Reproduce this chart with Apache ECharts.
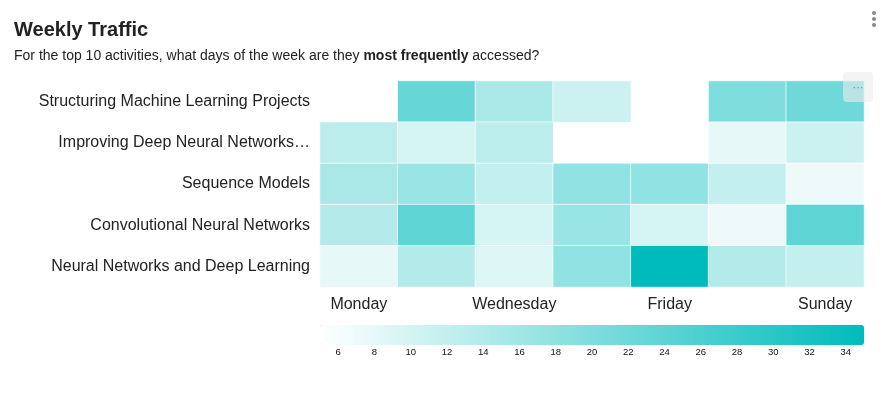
<!DOCTYPE html>
<html>
<head>
<meta charset="utf-8">
<script src="https://cdn.jsdelivr.net/npm/echarts@6/dist/echarts.min.js"></script>
<style>
html,body{margin:0;padding:0;background:#fff;}
#chart{width:893px;height:396px;}
</style>
</head>
<body>
<div id="chart"></div>
<script>
var days = ['Monday','Tuesday','Wednesday','Thursday','Friday','Saturday','Sunday'];
var activities = [
  'Structuring Machine Learning Projects',
  'Improving Deep Neural Networks…',
  'Sequence Models',
  'Convolutional Neural Networks',
  'Neural Networks and Deep Learning'
];
// values per activity, Monday..Sunday ('-' = no data)
var structuringML = ['-', 23, 15, 11, '-', 20, 22];
var improvingDNN  = [13, 10, 13, '-', '-', 8, 11];
var sequenceModels = [15, 17, 12, 18, 18, 12, 7];
var convNets      = [14, 24, 10, 17, 10, 7, 24];
var nnDeepLearning = [8, 14, 9, 18, 35, 14, 12];
var colorMin = 5;
var colorMax = 35;
var colorTicks = [6, 8, 10, 12, 14, 16, 18, 20, 22, 24, 26, 28, 30, 32, 34];

var rows = [structuringML, improvingDNN, sequenceModels, convNets, nnDeepLearning];
var heatData = [];
rows.forEach(function (row, yi) {
  row.forEach(function (v, xi) {
    if (v !== '-') heatData.push([xi, yi, v]);
  });
});

var FONT = "'Liberation Sans', Arial, sans-serif";
var chart = echarts.init(document.getElementById('chart'), null, {renderer: 'canvas'});
chart.setOption({
  animation: false,
  backgroundColor: '#fff',
  textStyle: {fontFamily: FONT},
  title: [
    {
      text: 'Weekly Traffic',
      left: 14, top: 20, padding: 0,
      textStyle: {fontSize: 20, fontWeight: 'bold', color: '#222', fontFamily: FONT}
    },
    {
      text: '{n|For the top 10 activities, what days of the week are they }{b|most frequently}{n| accessed?}',
      left: 14, top: 49, padding: 0,
      textStyle: {
        fontSize: 14, color: '#222', fontWeight: 'normal', fontFamily: FONT,
        rich: {
          n: {fontSize: 14, color: '#222', fontWeight: 'normal', fontFamily: FONT},
          b: {fontSize: 14, color: '#222', fontWeight: 'bold', fontFamily: FONT}
        }
      }
    }
  ],
  grid: [
    {left: 320, right: 29, top: 81, height: 206},
    {left: 302, right: 11, top: 344, height: 1}
  ],
  xAxis: [
    {
      type: 'category', data: days, gridIndex: 0,
      axisLine: {show: false}, axisTick: {show: false}, splitLine: {show: false},
      axisLabel: {interval: 1, fontSize: 16, color: '#222', margin: 10, fontFamily: FONT}
    },
    {
      type: 'value', gridIndex: 1, min: 4, max: 36, interval: 2,
      axisLine: {show: false}, axisTick: {show: false}, splitLine: {show: false},
      axisLabel: {
        showMinLabel: false, showMaxLabel: false,
        fontSize: 9.5, color: '#111', margin: 2, fontFamily: FONT,
        formatter: function (v) { return colorTicks.indexOf(v) >= 0 ? String(v) : ''; }
      }
    }
  ],
  yAxis: [
    {
      type: 'category', data: activities, inverse: true, gridIndex: 0,
      axisLine: {show: false}, axisTick: {show: false}, splitLine: {show: false},
      axisLabel: {fontSize: 16, color: '#222', margin: 10, fontFamily: FONT}
    },
    {type: 'value', gridIndex: 1, show: false}
  ],
  visualMap: {
    type: 'continuous',
    min: colorMin, max: colorMax,
    orient: 'horizontal',
    left: 320, top: 325,
    padding: 0,
    itemWidth: 20, itemHeight: 544,
    calculable: false,
    seriesIndex: 0,
    inRange: {color: ['#FFFFFF', '#00BBBB']}
  },
  series: [{
    type: 'heatmap',
    xAxisIndex: 0, yAxisIndex: 0,
    data: heatData,
    itemStyle: {borderColor: 'rgba(255,255,255,0.7)', borderWidth: 1},
    emphasis: {disabled: true}
  }],
  graphic: [
    {type: 'circle', shape: {cx: 874, cy: 13, r: 2}, style: {fill: '#888'}},
    {type: 'circle', shape: {cx: 874, cy: 19, r: 2}, style: {fill: '#888'}},
    {type: 'circle', shape: {cx: 874, cy: 25, r: 2}, style: {fill: '#888'}},
    {type: 'rect', z: 100, shape: {x: 843, y: 72, width: 30, height: 30, r: 4}, style: {fill: 'rgba(236,236,236,0.6)'}},
    {type: 'text', z: 101, style: {text: '···', x: 858, y: 88, fill: '#888', fontSize: 11, textAlign: 'center', textVerticalAlign: 'middle'}}
  ]
});
</script>
</body>
</html>
